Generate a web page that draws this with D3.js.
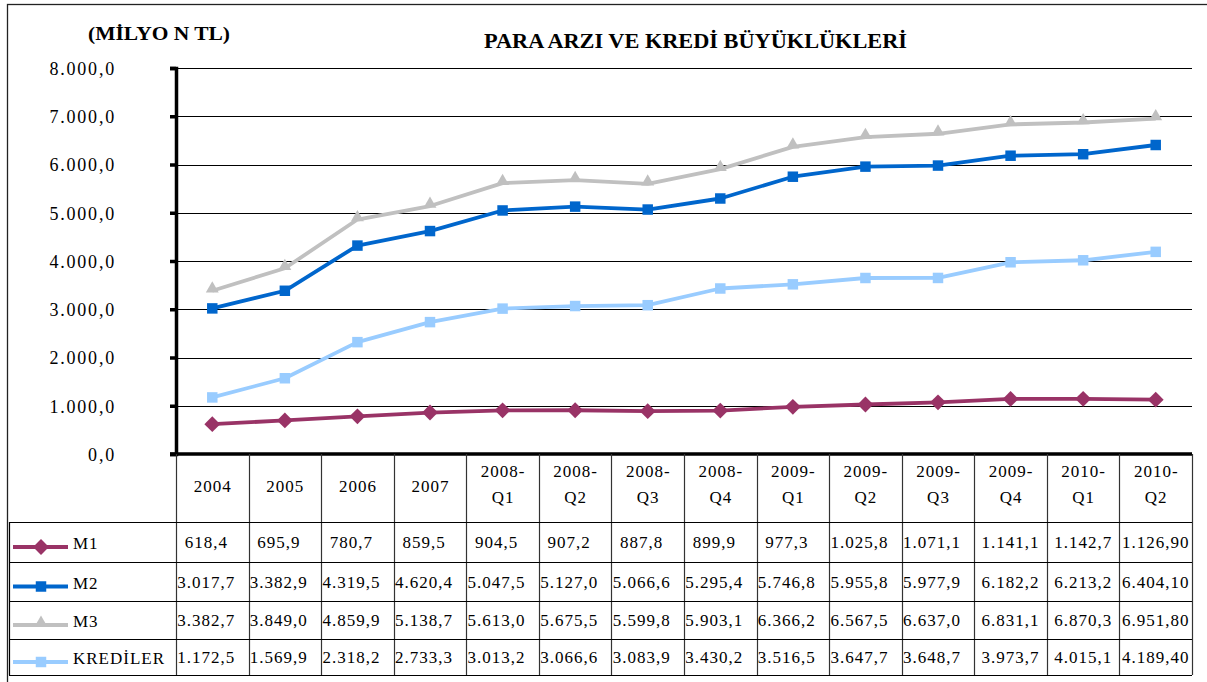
<!DOCTYPE html>
<html>
<head>
<meta charset="utf-8">
<script src="https://cdn.jsdelivr.net/npm/d3@7/dist/d3.min.js"></script>
<style>
  body { margin: 0; background: #fff; font-family: 'Liberation Serif', serif; }
  svg { display: block; }
  svg text { font-family: 'Liberation Serif', serif; }
</style>
</head>
<body>
<div id="chart"></div>
<script>
// categories (split on "-" into two header lines)
var categories = ["2004", "2005", "2006", "2007", "2008-Q1", "2008-Q2", "2008-Q3", "2008-Q4",
                  "2009-Q1", "2009-Q2", "2009-Q3", "2009-Q4", "2010-Q1", "2010-Q2"];
var seriesNames = ["M1", "M2", "M3", "KREDİLER"];
var m1 = [618.4, 695.9, 780.7, 859.5, 904.5, 907.2, 887.8, 899.9, 977.3, 1025.8, 1071.1, 1141.1, 1142.7, 1126.90];
var m2 = [3017.7, 3382.9, 4319.5, 4620.4, 5047.5, 5127.0, 5066.6, 5295.4, 5746.8, 5955.8, 5977.9, 6182.2, 6213.2, 6404.10];
var m3 = [3382.7, 3849.0, 4859.9, 5138.7, 5613.0, 5675.5, 5599.8, 5903.1, 6366.2, 6567.5, 6637.0, 6831.1, 6870.3, 6951.80];
var krediler = [1172.5, 1569.9, 2318.2, 2733.3, 3013.2, 3066.6, 3083.9, 3430.2, 3516.5, 3647.7, 3648.7, 3973.7, 4015.1, 4189.40];
// printed decimals per column (last column shows two)
var decimals = [1, 1, 1, 1, 1, 1, 1, 1, 1, 1, 1, 1, 1, 2];
var yTicks = [0, 1000, 2000, 3000, 4000, 5000, 6000, 7000, 8000];

var W = 1207, H = 682;
var plot = { left: 176, right: 1192, top: 68, bottom: 454 };
var rowTops = [522, 562, 601, 639, 675];
var tableLeft = 9;
var SERIF = "'Liberation Serif', 'Times New Roman', serif";

var series = [
    { name: seriesNames[0], values: m1, color: "#993366", marker: "diamond" },
    { name: seriesNames[1], values: m2, color: "#0066CC", marker: "square" },
    { name: seriesNames[2], values: m3, color: "#C0C0C0", marker: "triangle" },
    { name: seriesNames[3], values: krediler, color: "#99CCFF", marker: "square" }
];

var loc = d3.formatLocale({ decimal: ",", thousands: ".", grouping: [3], currency: ["", ""] });
var fmt = function (v, d) {
    return loc.format(",." + d + "f")(v);
};

var svg = d3.select("#chart").append("svg")
    .attr("width", W)
    .attr("height", H);

var txt = function (sel, size, bold) {
    return sel.style("font-family", SERIF)
        .style("font-size", size + "px")
        .style("font-weight", bold ? "bold" : "normal")
        .attr("fill", "#000");
};

// outer frame (right/bottom edges fall outside the picture)
svg.append("rect")
    .attr("x", 7.5).attr("y", 4.5)
    .attr("width", W + 20).attr("height", H + 20)
    .attr("fill", "none").attr("stroke", "#222").attr("stroke-width", 1.3);

var x = d3.scaleBand().domain(categories).range([plot.left, plot.right]);
var y = d3.scaleLinear().domain([0, 8000]).range([plot.bottom, plot.top]);

// gridlines
svg.append("g").selectAll("line")
    .data(yTicks.filter(function (d) { return d > 0; }))
    .join("line")
    .attr("x1", plot.left).attr("x2", plot.right)
    .attr("y1", function (d) { return Math.round(y(d)) + 0.5; })
    .attr("y2", function (d) { return Math.round(y(d)) + 0.5; })
    .attr("stroke", "#000").attr("stroke-width", 1.2);

// y axis
var yAxis = d3.axisLeft(y).tickValues(yTicks).tickSize(6).tickPadding(54)
    .tickFormat(function (d) { return fmt(d, 1); });
var gy = svg.append("g").attr("transform", "translate(" + plot.left + ",0)").call(yAxis);
gy.attr("font-family", null).attr("font-size", null);
gy.select(".domain").attr("stroke", "#000").attr("stroke-width", 3.5);
gy.selectAll(".tick line").attr("stroke", "#000").attr("stroke-width", 3.5);
txt(gy.selectAll(".tick text"), 18, false)
    .attr("dy", "0.36em")
    .style("letter-spacing", "1.8px");

// titles
txt(svg.append("text"), 19, true)
    .attr("x", 88).attr("y", 40)
    .attr("textLength", 142).attr("lengthAdjust", "spacingAndGlyphs")
    .text("(MİLYO N TL)");
txt(svg.append("text"), 20, true)
    .attr("x", 484).attr("y", 48)
    .attr("textLength", 423).attr("lengthAdjust", "spacingAndGlyphs")
    .text("PARA ARZI VE KREDİ BÜYÜKLÜKLERİ");

// marker shapes
var markerPath = function (type) {
    if (type === "diamond") return d3.symbol().type(d3.symbolDiamond2).size(160)();
    if (type === "triangle") return d3.symbol().type(d3.symbolTriangle2).size(120)();
    return d3.symbol().type(d3.symbolSquare2).size(140)();
};

var cx = function (i) { return x(categories[i]) + x.bandwidth() / 2; };

var line = d3.line()
    .x(function (d, i) { return cx(i); })
    .y(function (d) { return y(d); });

// draw series, M1 on top
[3, 2, 1, 0].forEach(function (k) {
    var s = series[k];
    var g = svg.append("g");
    g.append("path")
        .datum(s.values)
        .attr("d", line)
        .attr("fill", "none")
        .attr("stroke", s.color)
        .attr("stroke-width", 3.8)
        .attr("stroke-linejoin", "round");
    g.selectAll("path.m")
        .data(s.values)
        .join("path")
        .attr("class", "m")
        .attr("d", markerPath(s.marker))
        .attr("transform", function (d, i) {
            var dy = s.marker === "triangle" ? -2 : 0;
            return "translate(" + cx(i) + "," + (y(d) + dy) + ")";
        })
        .attr("fill", s.color);
});

// x axis line
svg.append("line")
    .attr("x1", plot.left - 6).attr("x2", plot.right)
    .attr("y1", plot.bottom).attr("y2", plot.bottom)
    .attr("stroke", "#000").attr("stroke-width", 3.5);

// data table grid
var colEdges = categories.map(function (c) { return x(c); }).concat([plot.right]);
svg.append("g").selectAll("line")
    .data(colEdges)
    .join("line")
    .attr("x1", function (d) { return Math.round(d) + 0.5; })
    .attr("x2", function (d) { return Math.round(d) + 0.5; })
    .attr("y1", plot.bottom).attr("y2", rowTops[rowTops.length - 1])
    .attr("stroke", "#333").attr("stroke-width", 1.2);
svg.append("g").selectAll("line")
    .data(rowTops)
    .join("line")
    .attr("x1", tableLeft).attr("x2", plot.right)
    .attr("y1", function (d) { return d + 0.5; })
    .attr("y2", function (d) { return d + 0.5; })
    .attr("stroke", "#000").attr("stroke-width", 1.2);
svg.append("line")
    .attr("x1", tableLeft + 0.5).attr("x2", tableLeft + 0.5)
    .attr("y1", rowTops[0]).attr("y2", rowTops[rowTops.length - 1])
    .attr("stroke", "#000").attr("stroke-width", 1.2);

// header labels
var hdr = svg.append("g");
categories.forEach(function (c, i) {
    var parts = c.indexOf("-") > 0 ? [c.split("-")[0] + "-", c.split("-")[1]] : [c];
    var lines = parts.length === 1 ? [[parts[0], 492]] : [[parts[0], 477], [parts[1], 503]];
    lines.forEach(function (l) {
        txt(hdr.append("text"), 17, false)
            .attr("x", cx(i) + 0.5).attr("y", l[1])
            .attr("text-anchor", "middle")
            .style("letter-spacing", "1px")
            .text(l[0]);
    });
});

// table rows with legend keys
series.forEach(function (s, r) {
    var mid = (rowTops[r] + rowTops[r + 1]) / 2;
    var row = svg.append("g");
    row.append("line")
        .attr("x1", 13).attr("x2", 68)
        .attr("y1", mid + 5).attr("y2", mid + 5)
        .attr("stroke", s.color).attr("stroke-width", 3.8);
    row.append("path")
        .attr("d", markerPath(s.marker))
        .attr("transform", "translate(41," + (mid + (s.marker === "triangle" ? 3 : 5)) + ")")
        .attr("fill", s.color);
    txt(row.append("text"), 17, false)
        .attr("x", 73).attr("y", mid + 7)
        .style("letter-spacing", "1px")
        .text(s.name);
    txt(row.selectAll("text.v").data(s.values).join("text"), 17, false)
        .attr("class", "v")
        .attr("x", function (d, i) { return cx(i) + (i <= 10 ? -6 : 0); })
        .attr("y", mid + 6)
        .attr("text-anchor", "middle")
        .style("letter-spacing", "1px")
        .text(function (d, i) { return fmt(d, decimals[i]); });
});
</script>
</body>
</html>
